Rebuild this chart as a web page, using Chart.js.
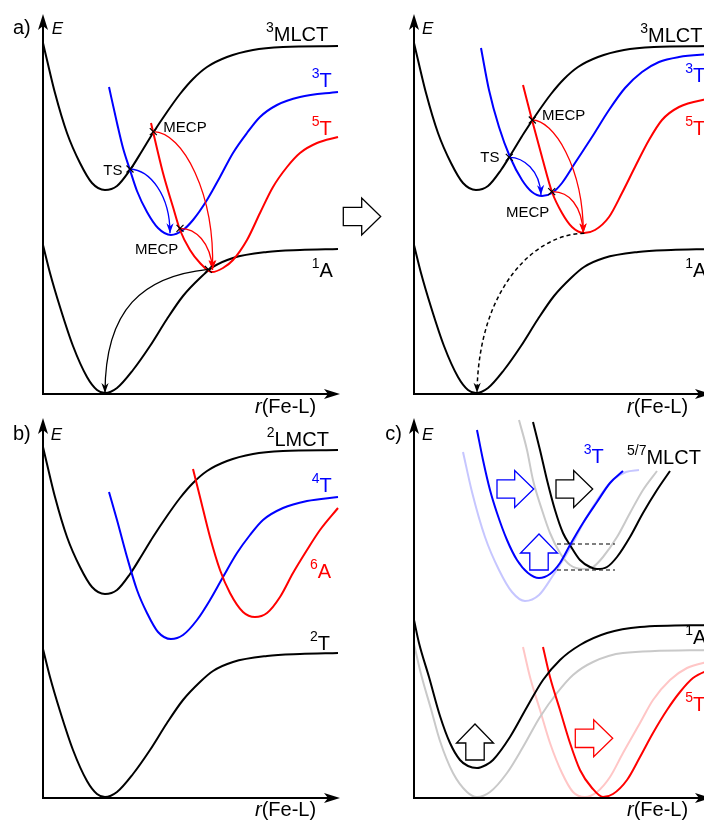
<!DOCTYPE html>
<html>
<head>
<meta charset="utf-8">
<title>Fe–L potential energy curves</title>
<script src="https://cdn.jsdelivr.net/npm/chart.js@4.4.1/dist/chart.umd.min.js"></script>
<style>
  html, body { margin: 0; padding: 0; background: #fff; overflow: hidden; }
  body { position: relative; width: 704px; height: 820px; }
  canvas { position: absolute; }
</style>
</head>
<body>
<canvas id="panelA1" width="390" height="420" style="left:0;top:0;width:390px;height:420px"></canvas>
<canvas id="panelA2" width="370" height="420" style="left:352px;top:0;width:370px;height:420px"></canvas>
<canvas id="panelB" width="352" height="410" style="left:0;top:410px;width:352px;height:410px"></canvas>
<canvas id="panelC" width="370" height="410" style="left:352px;top:410px;width:370px;height:410px"></canvas>
<script>
// Axes: r(Fe-L) and E in arbitrary units
const R_MAX = 297;
const E_MAX = 380;

const BLACK = '#000000';
const BLUE = '#0000ff';
const RED = '#ff0000';
const GRAY = '#c9c9c9';
const LIGHT_BLUE = '#c6c6ff';
const PINK = '#ffc6c6';
const FONT = '"Liberation Sans", Arial, Helvetica, sans-serif';

// ---- shared wells: charge-transfer (upper) and ground (lower) states, [r, E] ----
const upperWell = [[0,351],[4,334],[12,301],[24,261],[37,231],[49,211],[62,204],[74,208],[87,224],[99,243],[110,261],[124,282],[137,300],[150,315],[164,327],[184,337],[210,344],[240,347],[295,348]];
const lowerWell = [[0,149],[7,121],[17,87],[30,48],[44,17],[54,4],[62,1],[74,6],[90,24],[107,48],[124,75],[140,98],[157,116],[170,127],[190,136],[224,142],[257,144],[295,145]];

// ---- panel a, before ----
const tripletA = [[66,307],[74,271],[80,246],[87,224],[94,203],[104,182],[115,166],[128,159],[140,164],[150,174],[164,194],[177,217],[190,241],[204,261],[217,277],[234,289],[257,297],[295,302]];
const quintetA = [[108,271],[120,221],[130,187],[137,164],[147,144],[157,131],[169,122],[180,126],[190,134],[204,154],[217,181],[230,207],[244,227],[257,241],[274,251],[295,257]];
const crossingsA = [[87,225],[110.3,262.3],[137,165.7],[165.3,124.7]];
const pathsA = [
  { pts: [[87,225],[107,224],[127,199],[127,160.7]], color: BLUE },
  { pts: [[110.3,262.3],[140,262],[172,200],[169.5,124]], color: RED },
  { pts: [[137,165.7],[152,166],[168,152],[169.5,124]], color: RED },
  { pts: [[165.3,124.7],[100,118],[62,85],[62,1]], color: BLACK }
];
const labelsA = [
  { text: 'a)', r: -30, E: 360 },
  { text: 'E', r: 8.7, E: 360, size: 17, italic: true },
  { sup: '3', text: 'MLCT', r: 223, E: 353 },
  { sup: '3', text: 'T', r: 268.7, E: 307.3, color: BLUE },
  { sup: '5', text: 'T', r: 268.7, E: 259, color: RED },
  { sup: '1', text: 'A', r: 268.7, E: 117 },
  { text: 'TS', r: 60.3, E: 219, size: 15 },
  { text: 'MECP', r: 120.3, E: 262.3, size: 15 },
  { text: 'MECP', r: 92, E: 139.7, size: 15 },
  { lead: 'r', text: '(Fe-L)', r: 212, E: -19 }
];
const blocksA = [{ from: [300.3,177.5], to: [337.7,177.5], color: BLACK }];

// ---- panel a, after ----
const tripletB = [[67,346],[75,304],[85,267],[96,237],[108,214],[118,202],[128,198],[138,201],[148,211],[161,231],[178,257],[195,284],[211,306],[228,322],[245,332],[265,337],[297,340]];
const quintetB = [[109,309],[118,274],[128,237],[138,202],[148,181],[158,167],[170,161],[181,164],[195,177],[208,201],[221,227],[235,254],[248,274],[265,287],[297,296]];
const crossingsB = [[95.3,236.7],[118.3,274],[137.7,202.3]];
const pathsB = [
  { pts: [[95.3,236.7],[109.3,236.7],[126,224],[127,199]], color: BLUE },
  { pts: [[118.3,274],[139.3,274],[169.3,227.3],[169.3,160.7]], color: RED },
  { pts: [[137.7,202.3],[155,203],[168,188],[169.3,160.7]], color: RED },
  { pts: [[170.3,160.7],[124.7,160.7],[64.7,110.7],[63,1.3]], color: BLACK, dashed: true }
];
const labelsB = [
  { text: 'E', r: 8, E: 360, size: 17, italic: true },
  { sup: '3', text: 'MLCT', r: 226.3, E: 352.3 },
  { sup: '3', text: 'T', r: 271.3, E: 312, color: BLUE },
  { sup: '5', text: 'T', r: 271.3, E: 259, color: RED },
  { sup: '1', text: 'A', r: 271.3, E: 117 },
  { text: 'TS', r: 66.3, E: 232.3, size: 15 },
  { text: 'MECP', r: 128, E: 274, size: 15 },
  { text: 'MECP', r: 92, E: 177.3, size: 15 },
  { lead: 'r', text: '(Fe-L)', r: 213, E: -19 }
];

// ---- panel b ----
const quartetB = [[66,306],[74,278],[84,241],[94,208],[104,185],[115,166],[128,159],[140,163],[154,178],[167,198],[180,221],[194,245],[207,263],[220,278],[240,290],[264,297],[295,301]];
const sextetB = [[150,329],[157,301],[167,261],[177,228],[187,205],[200,186],[212,181],[224,185],[237,201],[250,225],[264,248],[277,268],[295,290]];
const labelsPanelB = [
  { text: 'b)', r: -30, E: 358 },
  { text: 'E', r: 7.7, E: 358, size: 17, italic: true },
  { sup: '2', text: 'LMCT', r: 223.7, E: 352 },
  { sup: '4', text: 'T', r: 268.7, E: 306.3, color: BLUE },
  { sup: '6', text: 'A', r: 267, E: 219.7, color: RED },
  { sup: '2', text: 'T', r: 267, E: 148 },
  { lead: 'r', text: '(Fe-L)', r: 212, E: -18 }
];

// ---- panel c: shifted wells (solid) against the reference wells (faded) ----
const mlctC = [[119,376],[126,348],[133,318],[141,288],[149,265],[156,253],[166,238],[176,231],[183,229],[193,231],[203,241],[216,261],[229,285],[243,308],[256,327]];
const mlctRefC = [[105,378],[113,348],[119,318],[128,288],[136,265],[146,245],[156,233],[169,229],[179,231],[189,241],[203,261],[216,285],[229,308],[243,327]];
const tripletC = [[63,368],[69,338],[76,308],[83,285],[93,258],[103,238],[114,225],[125,220],[136,224],[146,235],[156,253],[169,275],[183,296],[196,315],[209,327]];
const tripletRefC = [[49,346],[58,306],[71,261],[85,228],[98,206],[111,197],[125,203],[138,221],[155,248],[171,278],[188,305],[200,319],[212,326],[225,328]];
const singletC = [[0,178],[5,155],[15,121],[26,82],[36,55],[46,38],[54,32],[63,30],[72,33],[79,38],[96,61],[113,91],[129,118],[146,138],[166,153],[193,165],[226,171],[297,173]];
const singletRefC = [[0,154],[7,124],[17,89],[26,57],[39,25],[53,6],[63,1],[76,6],[93,25],[109,51],[126,81],[143,105],[159,123],[179,136],[209,145],[297,148]];
const quintetC = [[129,151],[136,121],[146,88],[156,55],[166,28],[178,10],[189,1],[199,4],[213,18],[226,41],[239,65],[253,88],[266,106],[279,120],[297,129]];
const quintetRefC = [[109,151],[116,121],[126,88],[136,55],[148,25],[159,6],[171,1],[183,6],[196,21],[209,45],[226,75],[239,98],[256,118],[273,130],[297,137]];
const levelUpperC = [[143,254],[201,254]];
const levelLowerC = [[143,228],[201,228]];
const blocksC = [
  { from: [83,309], to: [119.7,309], color: BLUE },
  { from: [142,309], to: [178.7,309], color: BLACK },
  { from: [125,228], to: [125,264], color: BLUE },
  { from: [61,38], to: [61,74], color: BLACK },
  { from: [161.3,59.7], to: [198.7,59.7], color: RED }
];
const labelsC = [
  { text: 'c)', r: -28.7, E: 358 },
  { text: 'E', r: 8, E: 358, size: 17, italic: true },
  { sup: '3', text: 'T', r: 169.7, E: 334.7, color: BLUE },
  { sup: '5/7', text: 'MLCT', r: 213, E: 334 },
  { sup: '1', text: 'A', r: 271.3, E: 154 },
  { sup: '5', text: 'T', r: 271.3, E: 87, color: RED },
  { lead: 'r', text: '(Fe-L)', r: 213, E: -18 }
];

// ---------------------------------------------------------------
function toPoints(arr) { return arr.map(p => ({ x: p[0], y: p[1] })); }

function curve(arr, color, width) {
  return {
    data: toPoints(arr), borderColor: color, borderWidth: width || 2,
    pointRadius: 0, pointHoverRadius: 0, fill: false,
    cubicInterpolationMode: 'monotone', clip: false
  };
}

function dashedLevel(arr) {
  return {
    data: toPoints(arr), borderColor: BLACK, borderWidth: 1.2, borderDash: [4, 3],
    pointRadius: 0, pointHoverRadius: 0, fill: false, tension: 0
  };
}

function arrowHead(ctx, tx, ty, ux, uy, len, half, notch) {
  const nx = -uy, ny = ux;
  ctx.beginPath();
  ctx.moveTo(tx, ty);
  ctx.lineTo(tx - ux * len + nx * half, ty - uy * len + ny * half);
  ctx.lineTo(tx - ux * (len - notch), ty - uy * (len - notch));
  ctx.lineTo(tx - ux * len - nx * half, ty - uy * len - ny * half);
  ctx.closePath();
  ctx.fill();
}

function drawAxes(ctx, X, Y) {
  const x0 = X(0), y0 = Y(0), xt = X(R_MAX), yt = Y(E_MAX);
  ctx.strokeStyle = BLACK; ctx.fillStyle = BLACK; ctx.lineWidth = 2; ctx.setLineDash([]);
  ctx.beginPath(); ctx.moveTo(x0, y0 + 1); ctx.lineTo(x0, yt + 10); ctx.stroke();
  ctx.beginPath(); ctx.moveTo(x0 - 1, y0); ctx.lineTo(xt - 10, y0); ctx.stroke();
  arrowHead(ctx, x0, yt, 0, -1, 16, 5, 4);
  arrowHead(ctx, xt, y0, 1, 0, 16, 5, 4);
}

function drawPath(ctx, X, Y, p) {
  const q = p.pts.map(([r, E]) => [X(r), Y(E)]);
  ctx.strokeStyle = p.color; ctx.fillStyle = p.color;
  ctx.lineWidth = p.dashed ? 1.5 : 1.3;
  ctx.setLineDash(p.dashed ? [4, 3] : []);
  ctx.beginPath();
  ctx.moveTo(q[0][0], q[0][1]);
  ctx.bezierCurveTo(q[1][0], q[1][1], q[2][0], q[2][1], q[3][0], q[3][1]);
  ctx.stroke();
  ctx.setLineDash([]);
  const dx = q[3][0] - q[2][0], dy = q[3][1] - q[2][1], d = Math.hypot(dx, dy);
  arrowHead(ctx, q[3][0], q[3][1], dx / d, dy / d, 10, 3.6, 3);
}

function drawCross(ctx, X, Y, c) {
  const x = X(c[0]), y = Y(c[1]), s = 3.5;
  ctx.strokeStyle = BLACK; ctx.lineWidth = 1.2; ctx.setLineDash([]);
  ctx.beginPath();
  ctx.moveTo(x - s, y - s); ctx.lineTo(x + s, y + s);
  ctx.moveTo(x - s, y + s); ctx.lineTo(x + s, y - s);
  ctx.stroke();
}

function drawBlock(ctx, X, Y, b) {
  const x0 = X(b.from[0]), y0 = Y(b.from[1]), x1 = X(b.to[0]), y1 = Y(b.to[1]);
  const len = Math.hypot(x1 - x0, y1 - y0), ux = (x1 - x0) / len, uy = (y1 - y0) / len;
  const nx = -uy, ny = ux, headLen = 19, headHalf = 18.5, shaftHalf = 9.2, hb = len - headLen;
  const P = (a, n) => [x0 + ux * a + nx * n, y0 + uy * a + ny * n];
  const pts = [P(0, shaftHalf), P(hb, shaftHalf), P(hb, headHalf), P(len, 0), P(hb, -headHalf), P(hb, -shaftHalf), P(0, -shaftHalf)];
  ctx.beginPath();
  ctx.moveTo(pts[0][0], pts[0][1]);
  for (let i = 1; i < pts.length; i++) ctx.lineTo(pts[i][0], pts[i][1]);
  ctx.closePath();
  ctx.fillStyle = '#ffffff'; ctx.fill();
  ctx.strokeStyle = b.color; ctx.lineWidth = 1.3; ctx.lineJoin = 'miter'; ctx.setLineDash([]);
  ctx.stroke();
}

function drawLabel(ctx, X, Y, l) {
  let x = X(l.r);
  const y = Y(l.E), size = l.size || 20;
  ctx.fillStyle = l.color || BLACK; ctx.textAlign = 'left'; ctx.textBaseline = 'alphabetic';
  if (l.sup) {
    ctx.font = '14px ' + FONT;
    ctx.fillText(l.sup, x, y - 9);
    x += ctx.measureText(l.sup).width;
  }
  if (l.lead) {
    ctx.font = 'italic ' + size + 'px ' + FONT;
    ctx.fillText(l.lead, x, y);
    x += ctx.measureText(l.lead).width;
  }
  ctx.font = (l.italic ? 'italic ' : '') + size + 'px ' + FONT;
  ctx.fillText(l.text, x, y);
}

function makePanel(id, padding, datasets, decor) {
  return new Chart(document.getElementById(id), {
    type: 'line',
    data: { datasets: datasets },
    options: {
      responsive: false, animation: false, events: [],
      layout: { padding: padding },
      scales: {
        x: { type: 'linear', min: 0, max: R_MAX, display: false },
        y: { type: 'linear', min: 0, max: E_MAX, display: false }
      },
      plugins: { legend: { display: false }, tooltip: { enabled: false } }
    },
    plugins: [{
      id: 'panelDecor',
      afterDatasetsDraw(chart) {
        const ctx = chart.ctx;
        const X = v => chart.scales.x.getPixelForValue(v);
        const Y = v => chart.scales.y.getPixelForValue(v);
        ctx.save();
        drawAxes(ctx, X, Y);
        (decor.paths || []).forEach(p => drawPath(ctx, X, Y, p));
        (decor.crosses || []).forEach(c => drawCross(ctx, X, Y, c));
        (decor.blocks || []).forEach(b => drawBlock(ctx, X, Y, b));
        (decor.labels || []).forEach(l => drawLabel(ctx, X, Y, l));
        ctx.restore();
      }
    }]
  });
}

// a) before
makePanel('panelA1', { left: 43, top: 14, right: 50, bottom: 26 }, [
  curve(quintetA, RED),
  curve(tripletA, BLUE),
  curve(upperWell, BLACK),
  curve(lowerWell, BLACK)
], { paths: pathsA, crosses: crossingsA, labels: labelsA, blocks: blocksA });

// a) after
makePanel('panelA2', { left: 62, top: 14, right: 11, bottom: 26 }, [
  curve(quintetB, RED),
  curve(tripletB, BLUE),
  curve(upperWell, BLACK),
  curve(lowerWell, BLACK)
], { paths: pathsB, crosses: crossingsB, labels: labelsB });

// b)
makePanel('panelB', { left: 43, top: 8, right: 12, bottom: 22 }, [
  curve(sextetB, RED),
  curve(quartetB, BLUE),
  curve(upperWell, BLACK),
  curve(lowerWell, BLACK)
], { labels: labelsPanelB });

// c)
makePanel('panelC', { left: 62, top: 8, right: 11, bottom: 22 }, [
  curve(tripletC, BLUE),
  curve(mlctC, BLACK),
  curve(singletC, BLACK),
  curve(quintetC, RED),
  dashedLevel(levelUpperC),
  dashedLevel(levelLowerC),
  curve(mlctRefC, GRAY),
  curve(tripletRefC, LIGHT_BLUE),
  curve(singletRefC, GRAY),
  curve(quintetRefC, PINK)
], { labels: labelsC, blocks: blocksC });
</script>
</body>
</html>
